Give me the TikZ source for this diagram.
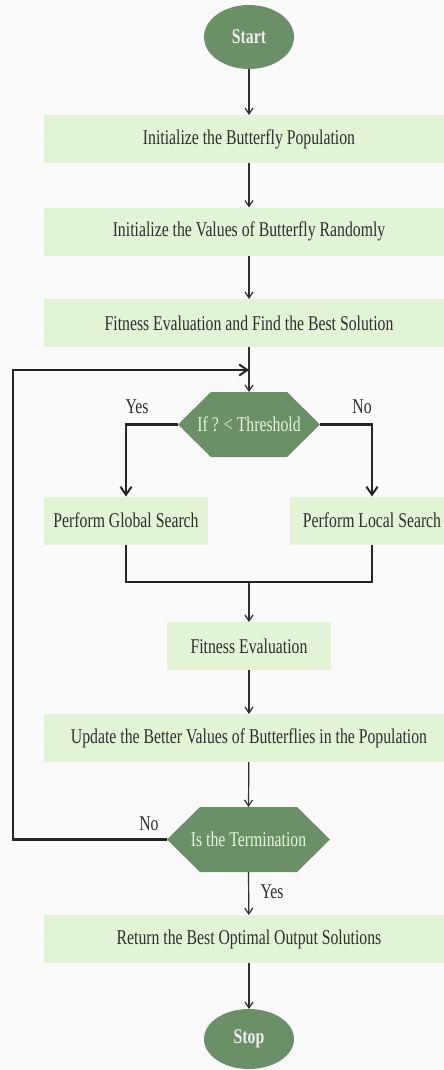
\documentclass[tikz,border=0pt]{standalone}
\usepackage{fontspec}
\setmainfont{Liberation Serif}[FakeStretch=0.75]
\usetikzlibrary{arrows.meta,shapes.geometric}
\definecolor{dkgreen}{HTML}{6B8F67}
\definecolor{ltgreen}{HTML}{E3F4D6}
\definecolor{txt}{HTML}{2E2E2E}
\begin{document}
\begin{tikzpicture}[x=1pt,y=-1pt,
  every node/.style={inner sep=0pt,outer sep=0pt,font=\fontsize{21}{24}\selectfont},
  term/.style={ellipse,fill=dkgreen,minimum width=90pt,minimum height=64pt,text=white!94!black,font=\fontsize{21}{24}\selectfont\bfseries},
  procbox/.style={rectangle,fill=ltgreen,minimum height=48pt,text=txt},
  hexnode/.style={rectangle,minimum height=65pt},
  flow/.style={draw=txt,line width=1.2pt,-{Straight Barb[length=6pt,width=8pt,line width=1.2pt]}},
  bold/.style={draw=black!85,line width=2.2pt},
  boldarrow/.style={bold,-{Straight Barb[length=8pt,width=11pt,line width=2pt]}},
  lbl/.style={text=txt}]
\useasboundingbox (0,0) rectangle (444,1070);
\clip (0,0) rectangle (444,1070);
\fill[white!98!black] (0,0) rectangle (444,1070);

\node[term] (start) at (249,37) {Start};
\node[procbox,minimum width=410pt] (b1) at (249,139) {Initialize the Butterfly Population};
\node[procbox,minimum width=410pt] (b2) at (249,231.5) {Initialize the Values of Butterfly Randomly};
\node[procbox,minimum width=410pt] (b3) at (249,323) {Fitness Evaluation and Find the Best Solution};

% hexagon 1
\node[hexnode,minimum width=142pt] (h1) at (249,424.5) {};
\fill[dkgreen] (h1.west) -- ([xshift=33pt]h1.north west) -- ([xshift=-33pt]h1.north east)
  -- (h1.east) -- ([xshift=-33pt]h1.south east) -- ([xshift=33pt]h1.south west) -- cycle;
\node[text=ltgreen!90!white] (h1t) at (h1.center) {If ? < Threshold};

\node[procbox,minimum width=164pt] (g) at (126,520.5) {Perform Global Search};
\node[procbox,minimum width=164pt] (l) at (372,520.5) {Perform Local Search};
\node[procbox,minimum width=164pt] (fe) at (249,646) {Fitness Evaluation};
\node[procbox,minimum width=410pt] (up) at (249,738) {Update the Better Values of Butterflies in the Population};

% hexagon 2
\node[hexnode,minimum width=163pt] (h2) at (248.5,839.5) {};
\fill[dkgreen] (h2.west) -- ([xshift=33pt]h2.north west) -- ([xshift=-33pt]h2.north east)
  -- (h2.east) -- ([xshift=-33pt]h2.south east) -- ([xshift=33pt]h2.south west) -- cycle;
\node[text=ltgreen!90!white] (h2t) at (h2.center) {Is the Termination};

\node[procbox,minimum width=410pt] (ret) at (249,939) {Return the Best Optimal Output Solutions};
\node[term,minimum height=60pt] (stop) at (249,1039) {Stop};

\coordinate (j) at (249,370);
\coordinate (lp) at (13,370);
\coordinate (lb) at (13,839.5);
\coordinate (m) at (249,582);

% main flow
\draw[flow] (start) -- (b1);
\draw[flow] (b1) -- (b2);
\draw[flow] (b2) -- (b3);
\draw[flow] (b3) -- (h1.north);
\draw[flow] (m) -- (fe);
\draw[flow] (fe) -- (up);
\draw[flow] (up) -- (h2.north);
\draw[flow] (h2.south) -- (ret);
\draw[flow] (ret) -- (stop);

% branches
\draw[boldarrow] (h1.west) -| (g.north);
\draw[boldarrow] (h1.east) -| (l.north);
\draw[bold] (g.south) |- (m) -| (l.south);
\draw[bold] (h2.west) -- (lb) -- (lp) -- (j);
\draw[boldarrow] (lp) -- (j);

% labels
\node[lbl] at (137,407) {Yes};
\node[lbl] at (362,407) {No};
\node[lbl] at (149,824) {No};
\node[lbl] at (272,892) {Yes};
\end{tikzpicture}
\end{document}
